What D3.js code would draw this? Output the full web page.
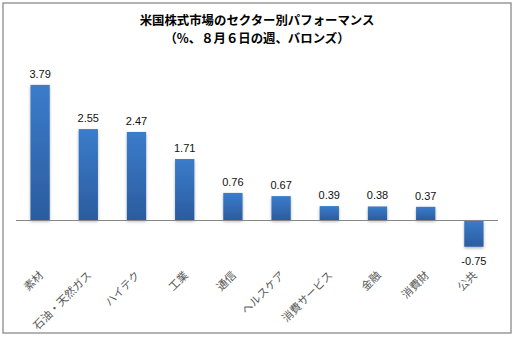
<!DOCTYPE html>
<html><head><meta charset="utf-8">
<script src="https://cdn.jsdelivr.net/npm/d3@7"></script>
<style>html,body{margin:0;padding:0;background:#fff;}svg{display:block;}</style>
</head><body>
<svg id="c" width="515" height="338"></svg>
<script>
const categories = ["素材","石油・天然ガス","ハイテク","工業","通信","ヘルスケア","消費サービス","金融","消費財","公共"];
const values = [3.79, 2.55, 2.47, 1.71, 0.76, 0.67, 0.39, 0.38, 0.37, -0.75];
const titleLines = ["米国株式市場のセクター別パフォーマンス","（%、８月６日の週、バロンズ）"];

const svg = d3.select("#c");
const defs = svg.append("defs");
const grad = defs.append("linearGradient").attr("id","g").attr("x1",0).attr("y1",0).attr("x2",0).attr("y2",1);
grad.append("stop").attr("offset","0%").attr("stop-color","#3b7ccb");
grad.append("stop").attr("offset","100%").attr("stop-color","#2b5c9f");
const f = defs.append("filter").attr("id","sh").attr("x","-30%").attr("y","-10%").attr("width","160%").attr("height","130%");
f.append("feDropShadow").attr("dx",0).attr("dy",1.5).attr("stdDeviation",1.5).attr("flood-color","#000").attr("flood-opacity",0.3);

svg.append("rect").attr("x",3).attr("y",3).attr("width",508).attr("height",330)
  .attr("fill","#fff").attr("stroke","#8a8a8a").attr("stroke-width",1.3);

const x = d3.scaleBand().domain(categories).range([16,498]).paddingInner(0.6).paddingOuter(0.3);
const y = d3.scaleLinear().domain([-1,4]).range([220+35.65,220-4*35.65]);

svg.append("g").selectAll("text").data(titleLines).join("text")
  .attr("x",257).attr("y",(d,i)=>24.5+i*18).attr("text-anchor","middle")
  .attr("font-family","'Noto Sans CJK JP'").attr("font-weight","bold").attr("font-size",12.4)
  .attr("fill","#000").text(d=>d);

svg.append("g").attr("filter","url(#sh)").selectAll("rect").data(values).join("rect")
  .attr("x",(d,i)=>x(categories[i]))
  .attr("width",x.bandwidth())
  .attr("y",d=>y(Math.max(0,d)))
  .attr("height",d=>Math.abs(y(d)-y(0)))
  .attr("fill","url(#g)");

svg.append("line").attr("x1",16).attr("x2",498).attr("y1",y(0)+0.5).attr("y2",y(0)+0.5)
  .attr("stroke","#868686").attr("stroke-width",1);

svg.append("g").selectAll("text").data(values).join("text")
  .attr("x",(d,i)=>x(categories[i])+x.bandwidth()/2)
  .attr("y",d=>d>=0? y(d)-7 : y(d)+18)
  .attr("text-anchor","middle")
  .attr("font-family","'Liberation Sans', Arial, sans-serif").attr("font-size",11)
  .attr("fill","#111").text(d=>d.toFixed(2));

svg.append("g").selectAll("text").data(categories).join("text")
  .attr("transform",d=>`translate(${x(d)+x.bandwidth()/2+4},276) rotate(-45)`)
  .attr("text-anchor","end")
  .attr("font-family","'Noto Sans CJK JP'").attr("font-size",11)
  .attr("fill","#595959").text(d=>d);
</script>
</body></html>
